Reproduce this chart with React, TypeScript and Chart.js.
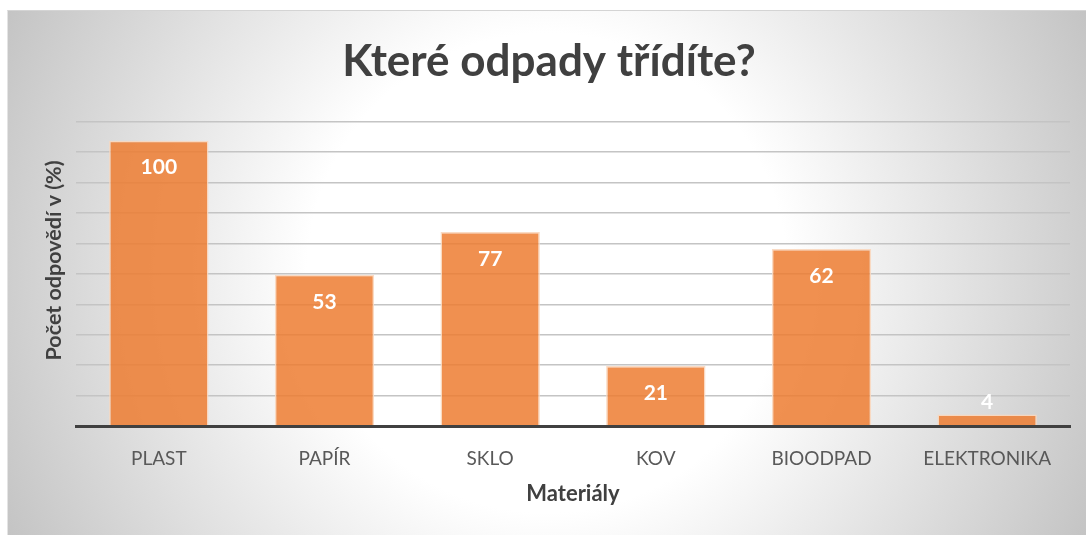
import React, { useEffect, useRef } from 'react';
import { Chart, registerables } from 'chart.js';

Chart.register(...registerables);

// ---- data ----
const categories = ['PLAST', 'PAPÍR', 'SKLO', 'KOV', 'BIOODPAD', 'ELEKTRONIKA'];
// bar heights (PLAST bar = 100)
const barValues = [100, 53, 68, 21, 62, 4];
// data labels as printed on the bars
const labelTexts = ['100', '53', '77', '21', '62', '4'];
const yMax = 106.6;
const yStep = 10.66;

const chartTitle = 'Které odpady třídíte?';
const yTitle = 'Počet odpovědí v (%)';
const xTitle = 'Materiály';

const FONT = 'Lato, "Open Sans", sans-serif';

const barLabelsPlugin = {
  id: 'barLabels',
  afterDatasetsDraw(chart: any) {
    const ctx = chart.ctx;
    const meta = chart.getDatasetMeta(0);
    ctx.save();
    ctx.font = `bold 21px ${FONT}`;
    ctx.fillStyle = '#ffffff';
    ctx.textAlign = 'center';
    ctx.textBaseline = 'middle';
    meta.data.forEach((bar: any, i: number) => {
      const { x, y, base } = bar.getProps(['x', 'y', 'base'], true);
      const h = base - y;
      const ty = h > 40 ? y + 27 : y - 12;
      ctx.fillText(labelTexts[i], x, ty);
    });
    ctx.restore();
  },
};

const yTitlePlugin = {
  id: 'yTitleDraw',
  afterDraw(chart: any) {
    const { ctx, chartArea } = chart;
    ctx.save();
    ctx.translate(chartArea.left - 22, (chartArea.top + chartArea.bottom) / 2 - 13.5);
    ctx.rotate(-Math.PI / 2);
    ctx.font = `bold 21.5px ${FONT}`;
    ctx.fillStyle = '#404040';
    ctx.textAlign = 'center';
    ctx.textBaseline = 'middle';
    ctx.fillText(yTitle, 0, 0);
    ctx.restore();
  },
};

export default function App() {
  const canvasRef = useRef<HTMLCanvasElement | null>(null);

  useEffect(() => {
    if (!canvasRef.current) return;
    const chart = new Chart(canvasRef.current, {
      type: 'bar',
      data: {
        labels: categories,
        datasets: [
          {
            data: barValues,
            backgroundColor: 'rgba(237,125,49,0.85)',
            borderColor: 'rgba(250,215,190,0.9)',
            borderWidth: 1.5,
            barPercentage: 0.6,
            categoryPercentage: 1,
            yAxisID: 'y',
          },
        ],
      },
      options: {
        responsive: false,
        animation: false,
        layout: { padding: { left: 4, right: 0, top: 0, bottom: 0 } },
        plugins: {
          legend: { display: false },
          tooltip: { enabled: false },
          title: {
            display: true,
            text: chartTitle,
            color: '#404040',
            font: { family: FONT, size: 44, weight: 'bold', lineHeight: 1.2 },
            padding: { top: 24, bottom: 34 },
          },
        },
        scales: {
          x: {
            grid: { display: false, drawTicks: false },
            border: { display: true, color: '#404040', width: 3, z: 1 },
            ticks: {
              color: '#595959',
              padding: 21.5,
              font: { family: FONT, size: 19 },
            },
            title: {
              display: true,
              text: xTitle,
              color: '#404040',
              font: { family: FONT, size: 22, weight: 'bold', lineHeight: 1.2 },
              padding: { top: 4, bottom: 27.8 },
            },
            afterFit: (scale: any) => {
              scale.height = 109;
            },
          },
          y: {
            position: 'left',
            min: 0,
            max: yMax,
            ticks: { display: false, stepSize: yStep },
            grid: { color: '#c4c4c4', lineWidth: 1.5, drawTicks: false },
            border: { display: false },
            afterFit: (scale: any) => {
              scale.width = 64;
            },
          },
          yRightSpace: {
            position: 'right',
            min: 0,
            max: yMax,
            ticks: { display: false },
            grid: { display: false, drawTicks: false },
            border: { display: false },
            afterFit: (scale: any) => {
              scale.width = 16;
            },
          },
        },
      },
      plugins: [barLabelsPlugin, yTitlePlugin],
    });
    return () => chart.destroy();
  }, []);

  return (
    <div
      style={{
        position: 'absolute',
        left: 7,
        top: 10,
        width: 1079,
        height: 525,
        background:
          'radial-gradient(circle farthest-corner at 50% 50%, #ffffff 0%, #ffffff 40%, #c4c4c4 100%)',
        borderTop: '1px solid #d4d4d4',
        borderLeft: '1px solid #e4e4e4',
        boxSizing: 'border-box',
      }}
    >
      <canvas ref={canvasRef} width={1078} height={524} style={{ display: 'block' }} />
    </div>
  );
}
